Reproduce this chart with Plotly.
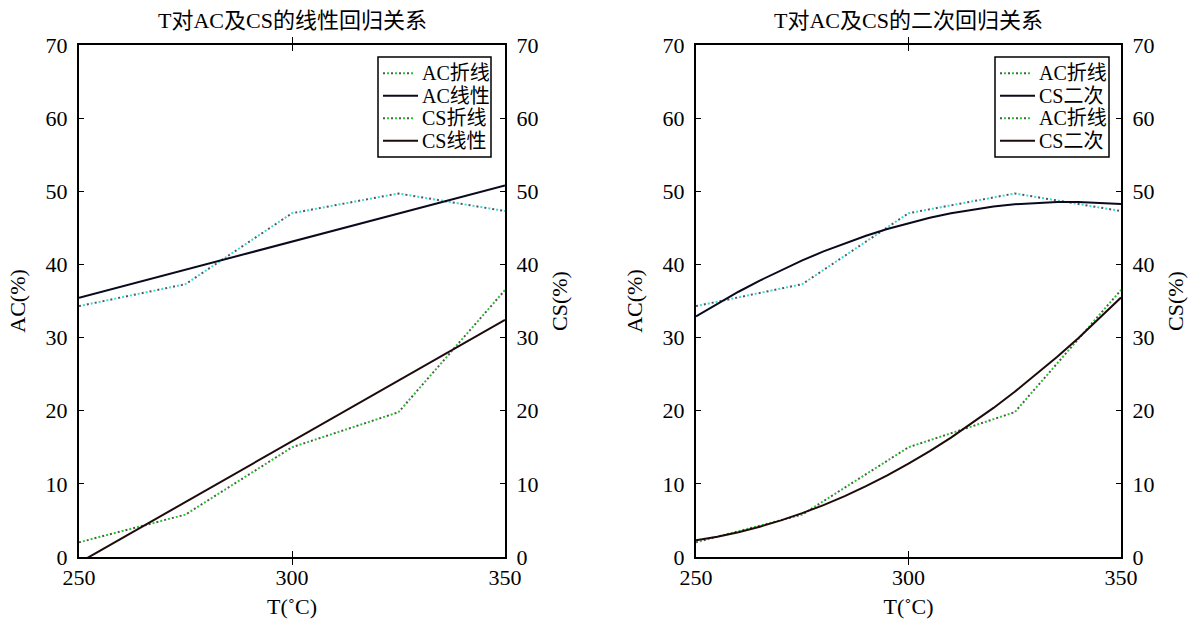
import numpy as np
import plotly.graph_objects as go

# Measured values
T = [250, 275, 300, 325, 350]
AC = [34.3, 37.3, 47.0, 49.7, 47.3]
CS = [2.0, 5.8, 15.0, 19.8, 36.5]

x_ticks = [250, 300, 350]
y_ticks = [0, 10, 20, 30, 40, 50, 60, 70]

titles = ["T对AC及CS的线性回归关系", "T对AC及CS的二次回归关系"]
names_left = ["AC折线", "AC线性", "CS折线", "CS线性"]
names_right = ["AC折线", "CS二次", "AC折线", "CS二次"]

# Regression curves evaluated on a fine temperature grid
T_fit = np.arange(250, 351, 5)
ac_lin = np.polyval(np.polyfit(T, AC, 1), T_fit)
cs_lin = np.polyval(np.polyfit(T, CS, 1), T_fit)
ac_quad = np.polyval(np.polyfit(T, AC, 2), T_fit)
cs_quad = np.polyval(np.polyfit(T, CS, 2), T_fit)

FONT = "Liberation Serif, Times New Roman, Noto Sans CJK SC, serif"
W, H = 1194, 622
ML, MR, MT, MB = 79, 73, 45, 65
PW, PH = W - ML - MR, H - MT - MB

DOT_A = "2px,6px"
DOT_B = "0px,4px,2px,2px"
GRAY = "#555555"
CYAN = "#33dddd"
GREEN = "#22cc22"
DARK_B = "#0a0a1e"
DARK_R = "#1e0a0a"


def px(x):
    return (x - ML) / PW


def py(y):
    return (H - MB - y) / PH


fig = go.Figure()


def dotted(x, y, name, col_b, xa, ya):
    # two interleaved dot patterns give the two-tone dotted look
    fig.add_trace(go.Scatter(x=x, y=y, mode="lines", name=name, xaxis=xa, yaxis=ya,
                             line=dict(color=GRAY, width=2, dash=DOT_A)))
    fig.add_trace(go.Scatter(x=x, y=y, mode="lines", name=name, xaxis=xa, yaxis=ya,
                             line=dict(color=col_b, width=2, dash=DOT_B)))


def solid(x, y, name, col, xa, ya):
    fig.add_trace(go.Scatter(x=x, y=y, mode="lines", name=name, xaxis=xa, yaxis=ya,
                             line=dict(color=col, width=2)))


# Left panel: linear regression
dotted(T, AC, names_left[0], CYAN, "x", "y")
solid(T_fit, ac_lin, names_left[1], DARK_B, "x", "y")
dotted(T, CS, names_left[2], GREEN, "x", "y2")
solid(T_fit, cs_lin, names_left[3], DARK_R, "x", "y2")

# Right panel: quadratic regression
dotted(T, AC, names_right[0], CYAN, "x2", "y3")
solid(T_fit, ac_quad, names_right[1], DARK_B, "x2", "y3")
dotted(T, CS, names_right[2], GREEN, "x2", "y4")
solid(T_fit, cs_quad, names_right[3], DARK_R, "x2", "y4")

left_dom = [px(79), px(505)]
right_dom = [px(696), px(1121)]

tickfont = dict(family=FONT, size=22, color="black")
titlefont = dict(family=FONT, size=22, color="black")


def xaxis(dom, anchor):
    return dict(domain=dom, anchor=anchor, range=[250, 350], tickvals=x_ticks,
                ticks="inside", ticklen=6, tickcolor="black", showline=True,
                linecolor="black", linewidth=2, mirror="allticks", showgrid=False,
                zeroline=False, tickfont=tickfont, ticklabelstandoff=0, automargin=False,
                title=dict(text="T(˚C)", font=titlefont, standoff=9))


def yleft(anchor, title):
    return dict(domain=[0, 1], anchor=anchor, range=[0, 70], tickvals=y_ticks,
                ticks="inside", ticklen=5, tickcolor="black", showline=True,
                linecolor="black", linewidth=2, showgrid=False, zeroline=False,
                tickfont=tickfont, ticklabelstandoff=5, automargin=False,
                title=dict(text=title, font=titlefont, standoff=14))


def yright(anchor, over, title):
    return dict(domain=[0, 1], anchor=anchor, overlaying=over, side="right",
                range=[0, 70], tickvals=y_ticks, ticks="inside", ticklen=5,
                tickcolor="black", showline=True, linecolor="black", linewidth=2,
                showgrid=False, zeroline=False, tickfont=tickfont,
                ticklabelstandoff=5, automargin=False,
                title=dict(text=title, font=titlefont, standoff=14))


shapes = []
annotations = [
    dict(text=titles[0], x=sum(left_dom) / 2, y=py(20), xref="paper", yref="paper",
         showarrow=False, font=titlefont, xanchor="center", yanchor="middle"),
    dict(text=titles[1], x=sum(right_dom) / 2, y=py(20), xref="paper", yref="paper",
         showarrow=False, font=titlefont, xanchor="center", yanchor="middle"),
]


def legend_box(x0, x1, y0, y1, names, cols):
    # boxed legend: sample line + label per entry
    shapes.append(dict(type="rect", xref="paper", yref="paper", x0=px(x0), x1=px(x1),
                       y0=py(y0), y1=py(y1), line=dict(color="black", width=1.5),
                       fillcolor="white", layer="above"))
    step = (y1 - y0 - 10) / 4
    for i, (name, col) in enumerate(zip(names, cols)):
        yc = py(y0 + 5 + step * (i + 0.5))
        if col in (CYAN, GREEN):
            shapes.append(dict(type="line", xref="paper", yref="paper", x0=px(x0 + 5),
                               x1=px(x0 + 36), y0=yc, y1=yc, layer="above",
                               line=dict(color=GRAY, width=2, dash=DOT_A)))
            shapes.append(dict(type="line", xref="paper", yref="paper", x0=px(x0 + 5),
                               x1=px(x0 + 36), y0=yc, y1=yc, layer="above",
                               line=dict(color=GREEN, width=2, dash=DOT_B)))
        else:
            shapes.append(dict(type="line", xref="paper", yref="paper", x0=px(x0 + 5),
                               x1=px(x0 + 40), y0=yc, y1=yc, layer="above",
                               line=dict(color=col, width=2)))
        annotations.append(dict(text=name, x=px(x0 + 42), y=yc, xref="paper", yref="paper",
                                showarrow=False, xanchor="left", yanchor="middle",
                                font=dict(family=FONT, size=20, color="black")))


legend_box(378, 491, 57, 157, names_left, [CYAN, DARK_B, GREEN, DARK_R])
legend_box(995, 1109, 57, 157, names_right, [CYAN, DARK_B, GREEN, DARK_R])

fig.update_layout(
    width=W, height=H,
    margin=dict(l=ML, r=MR, t=MT, b=MB, autoexpand=False),
    paper_bgcolor="white", plot_bgcolor="white",
    showlegend=False,
    xaxis=xaxis(left_dom, "y"),
    yaxis=yleft("x", "AC(%)"),
    yaxis2=yright("x", "y", "CS(%)"),
    xaxis2=xaxis(right_dom, "y3"),
    yaxis3=yleft("x2", "AC(%)"),
    yaxis4=yright("x2", "y3", "CS(%)"),
    shapes=shapes,
    annotations=annotations,
)

fig.write_html("out.html")
